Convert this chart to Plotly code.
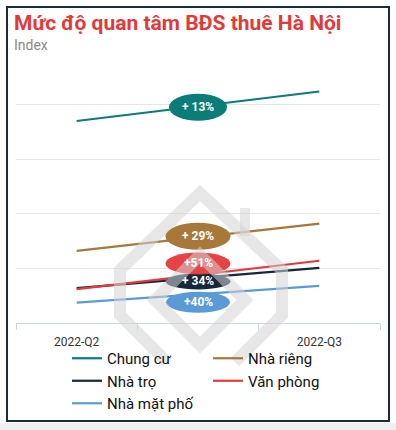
import plotly.graph_objects as go

# ---------------- data ----------------
categories = ["2022-Q2", "2022-Q3"]
series_names = ["Chung cư", "Nhà riêng", "Nhà trọ", "Văn phòng", "Nhà mặt phố"]
chung_cu = [185, 212]
nha_rieng = [66, 91]
nha_tro = [32, 50.5]
van_phong = [31, 57]
nha_mat_pho = [18.6, 34]
change_labels = ["+ 13%", "+ 29%", "+ 34%", "+51%", "+40%"]

# ---------------- style ----------------
colors = ["#0b7d78", "#a8773a", "#16263b", "#e53a3a", "#5b9bd5"]
label_shift_px = [-1, 1, -3.5, 11.5, -8]          # vertical offset of badge (px)
badge_size_px = [(58, 27), (65, 27), (65, 16), (65, 22), (64, 21)]
badge_opacity = [1, 1, 1, 0.95, 1]

W, H = 396, 430
L, R, T, B = 16, 380, 50, 323   # plot area pixels


def px(x):
    return (x - L) / (R - L)


def py(y):
    return (B - y) / (B - T)


xpos = {categories[0]: 0, categories[1]: 2}
all_series = [chung_cu, nha_rieng, nha_tro, van_phong, nha_mat_pho]

fig = go.Figure()
for name, vals, col in zip(series_names, all_series, colors):
    fig.add_trace(go.Scatter(
        x=[xpos[c] for c in categories], y=vals, mode="lines", name=name,
        line=dict(color=col, width=2.2), hoverinfo="skip"))

for i in range(len(all_series)):
    vals = all_series[i]
    mid = (vals[0] + vals[1]) / 2
    w, h = badge_size_px[i]
    s = label_shift_px[i]
    fig.add_shape(type="circle", xref="x", yref="y", xsizemode="pixel", ysizemode="pixel",
                  xanchor=1, yanchor=mid, x0=-w / 2, x1=w / 2, y0=s - h / 2, y1=s + h / 2,
                  fillcolor=colors[i], line=dict(width=0), opacity=badge_opacity[i], layer="above")
    fig.add_annotation(x=1, y=mid, xref="x", yref="y", text=change_labels[i], showarrow=False,
                       yshift=s, font=dict(family="Roboto", size=12, color="white", weight="bold"))

# watermark (decorative logo outline)
wm = "rgba(212,212,212,0.55)"


def poly(pts, close=False):
    p = "M " + " L ".join(f"{px(a):.4f},{py(b):.4f}" for a, b in pts)
    return p + (" Z" if close else "")


outer = [(167, 362), (120, 315), (120, 270), (200, 193), (282, 270), (282, 315), (235, 362)]
inner = [(200, 255), (245, 300), (200, 345), (155, 300)]
fig.add_shape(type="path", xref="paper", yref="paper", path=poly(outer),
              line=dict(color=wm, width=12), layer="above")
fig.add_shape(type="path", xref="paper", yref="paper", path=poly(inner, close=True),
              line=dict(color=wm, width=12), layer="above")
fig.add_shape(type="line", xref="paper", yref="paper", x0=px(245), x1=px(245), y0=py(208), y1=py(236),
              line=dict(color=wm, width=10), layer="above")

# frame and bottom strip
fig.add_shape(type="rect", xref="paper", yref="paper", x0=px(-2), x1=px(398), y0=py(423), y1=py(432),
              fillcolor="#efefef", line=dict(width=0), layer="below")
fig.add_shape(type="rect", xref="paper", yref="paper", x0=px(7), x1=px(389), y0=py(421), y1=py(7),
              line=dict(color="#1c2b3c", width=2), fillcolor="rgba(0,0,0,0)", layer="below")

# title / subtitle
fig.add_annotation(xref="paper", yref="paper", x=px(12), y=py(9), xanchor="left", yanchor="top",
                   text="<b>Mức độ quan tâm BĐS thuê Hà Nội</b>", showarrow=False,
                   font=dict(family="Roboto", size=21, color="#e23a3a"))
fig.add_annotation(xref="paper", yref="paper", x=px(12), y=py(35), xanchor="left", yanchor="top",
                   text="Index", showarrow=False,
                   font=dict(family="Roboto", size=14, color="#8a8a8a"))

fig.update_layout(
    width=W, height=H,
    margin=dict(l=L, r=W - R, t=T, b=H - B, autoexpand=False),
    paper_bgcolor="white", plot_bgcolor="white",
    showlegend=True,
    legend=dict(orientation="h", x=px(67), xanchor="left", y=py(342), yanchor="top",
                entrywidth=96, bgcolor="rgba(0,0,0,0)",
                font=dict(family="Roboto", size=15, color="#111111"),
                itemclick=False, tracegroupgap=0),
    font=dict(family="Roboto"),
)
fig.update_xaxes(range=[-0.5, 2.5], tickvals=[xpos[c] for c in categories], ticktext=categories,
                 showgrid=False, zeroline=False, showline=True, linecolor="#ccd6eb", linewidth=1,
                 ticks="", tickfont=dict(family="Roboto", size=12, color="#333333"),
                 ticklabelstandoff=8,
                 minor=dict(tick0=-0.5, dtick=1, ticks="outside", ticklen=6, tickcolor="#ccd6eb",
                            showgrid=False))
fig.update_yaxes(range=[0, 250], tickvals=[50, 100, 150, 200], showticklabels=False,
                 gridcolor="#e6e6e6", gridwidth=1, zeroline=False)

fig.write_html("out.html", config={"displayModeBar": False},
               post_script="document.body.style.margin='0';document.body.style.overflow='hidden';")
